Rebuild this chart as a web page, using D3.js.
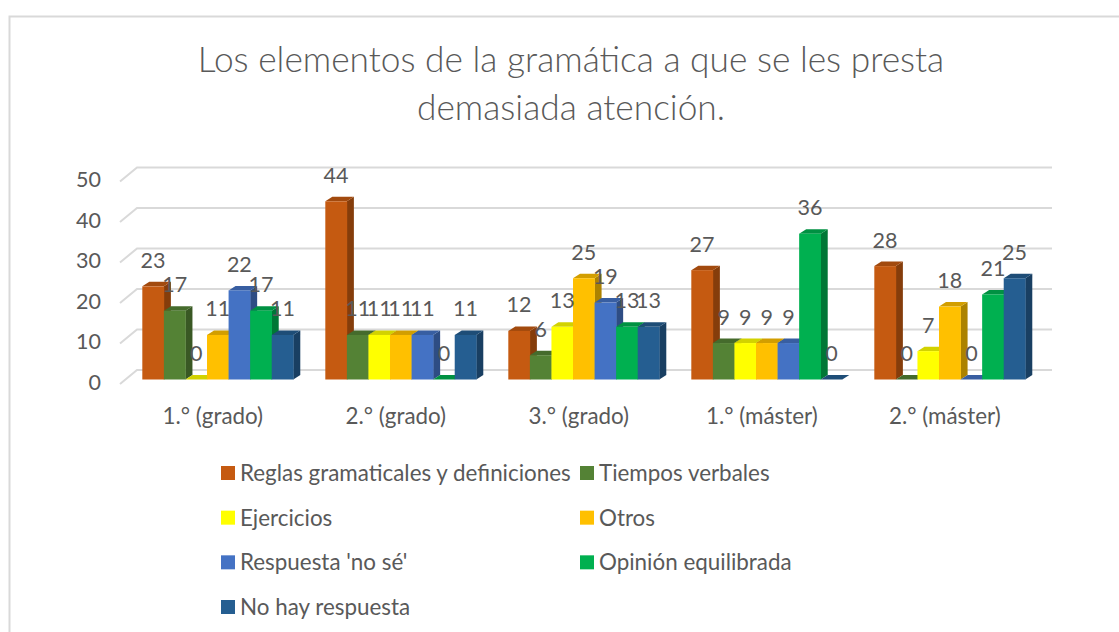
<!DOCTYPE html>
<html lang="es">
<head>
    <meta charset="UTF-8">
    <title>Los elementos de la gramática</title>
    <script src="https://d3js.org/d3.v7.min.js"></script>
    <style>
        html, body { margin: 0; padding: 0; background: #fff; }
        svg { display: block; font-family: Lato, 'Open Sans', sans-serif; }
        text { fill: #595959; }
    </style>
</head>
<body>
    <div id="chart"></div>

    <script>
        const titleLines = ["Los elementos de la gramática a que se les presta", "demasiada atención."];
        const categories = ["1.° (grado)", "2.° (grado)", "3.° (grado)", "1.° (máster)", "2.° (máster)"];
        const seriesNames = ["Reglas gramaticales y definiciones", "Tiempos verbales", "Ejercicios", "Otros", "Respuesta 'no sé'", "Opinión equilibrada", "No hay respuesta"];
        const seriesColors = ["#C55A11", "#548235", "#FFFF00", "#FFC000", "#4472C4", "#00B050", "#255E91"];
        const reglas = [23, 44, 12, 27, 28];
        const tiempos = [17, 11, 6, 9, 0];
        const ejercicios = [0, 11, 13, 9, 7];
        const otros = [11, 11, 25, 9, 18];
        const noSe = [22, 11, 19, 9, 0];
        const opinion = [17, 0, 13, 36, 21];
        const noRespuesta = [11, 11, 13, 0, 25];
        const seriesValues = [reglas, tiempos, ejercicios, otros, noSe, opinion, noRespuesta];

        const width = 1119, height = 632;
        const depthX = 7, depthY = 4.5;   // 3D offset of the bars
        const wallY = 9.5;                // gridlines sit this far above the front plane

        const svg = d3.select("#chart").append("svg")
            .attr("width", width)
            .attr("height", height);

        // chart frame, only top and left are in the crop
        svg.append("path")
            .attr("d", "M9.5 632V16.5H1119")
            .attr("fill", "none")
            .attr("stroke", "#d9d9d9")
            .attr("stroke-width", 2);

        svg.append("text")
            .attr("text-anchor", "middle")
            .attr("font-size", 35.3)
            .attr("font-weight", 300)
            .selectAll("tspan")
            .data(titleLines)
            .join("tspan")
            .attr("x", 571)
            .attr("y", (d, i) => 72 + i * 48)
            .text(d => d);

        const x = d3.scaleBand()
            .domain(categories)
            .range([126.3, 1041.3])
            .paddingInner(0.175)
            .paddingOuter(0.0875);

        const xBar = d3.scaleBand()
            .domain(d3.range(seriesNames.length))
            .range([0, x.bandwidth()]);

        const y = d3.scaleLinear().domain([0, 50]).range([379.5, 177]);

        // gridlines on the back wall and the short floor lines on the left
        const ticks = y.ticks(5);
        svg.append("g").selectAll("path")
            .data(ticks)
            .join("path")
            .attr("d", d => `M120 ${y(d) + 4.5}L137 ${y(d) - wallY}H1052`)
            .attr("fill", "none")
            .attr("stroke", "#d9d9d9")
            .attr("stroke-width", 2);

        const yAxis = svg.append("g")
            .attr("transform", "translate(101,3)")
            .call(d3.axisLeft(y).tickValues(ticks).tickSize(0).tickPadding(0));
        yAxis.select(".domain").remove();
        yAxis.selectAll("text")
            .attr("fill", "#595959")
            .attr("font-family", "Lato")
            .attr("font-size", 21.5);

        const xAxis = svg.append("g")
            .attr("transform", "translate(-5,408)")
            .call(d3.axisBottom(x).tickSize(0).tickPadding(0));
        xAxis.select(".domain").remove();
        xAxis.selectAll("text")
            .attr("fill", "#595959")
            .attr("font-family", "Lato")
            .attr("font-size", 22.4);

        // bars, one flat record per bar
        const bars = [];
        categories.forEach((c, ci) => {
            seriesValues.forEach((vals, si) => {
                bars.push({ category: c, series: si, value: vals[ci] });
            });
        });

        const barG = svg.append("g").selectAll("g")
            .data(bars)
            .join("g")
            .attr("transform", d => `translate(${x(d.category) + xBar(d.series)},0)`);

        const bw = xBar.bandwidth();

        barG.append("path")   // right side
            .attr("d", d => `M${bw} ${y(d.value)}l${depthX} ${-depthY}V${y(0) - depthY}l${-depthX} ${depthY}Z`)
            .attr("fill", d => d3.color(seriesColors[d.series]).darker(1.1));

        barG.append("path")   // top
            .attr("d", d => `M0 ${y(d.value)}l${depthX} ${-depthY}H${bw + depthX}l${-depthX} ${depthY}Z`)
            .attr("fill", d => d3.color(seriesColors[d.series]).darker(0.55));

        barG.append("rect")   // front
            .attr("y", d => y(d.value))
            .attr("width", bw + 0.3)
            .attr("height", d => y(0) - y(d.value))
            .attr("fill", d => seriesColors[d.series]);

        svg.append("g").selectAll("text")
            .data(bars)
            .join("text")
            .attr("x", d => x(d.category) + xBar(d.series) + bw / 2)
            .attr("y", d => y(d.value) - 18.5)
            .attr("text-anchor", "middle")
            .attr("font-size", 21.5)
            .text(d => d.value);

        // legend is two columns, four rows
        const legendX = [221, 580];
        const legendY = d3.scalePoint()
            .domain(d3.range(4))
            .range([473, 607]);

        const legend = svg.append("g").selectAll("g")
            .data(seriesNames)
            .join("g")
            .attr("transform", (d, i) => `translate(${legendX[i % 2]},${legendY(Math.floor(i / 2))})`);

        legend.append("rect")
            .attr("y", -7)
            .attr("width", 14)
            .attr("height", 14)
            .attr("fill", (d, i) => seriesColors[i]);

        legend.append("text")
            .attr("x", 19)
            .attr("y", 8)
            .attr("font-size", 22.4)
            .text(d => d);
    </script>
</body>
</html>
